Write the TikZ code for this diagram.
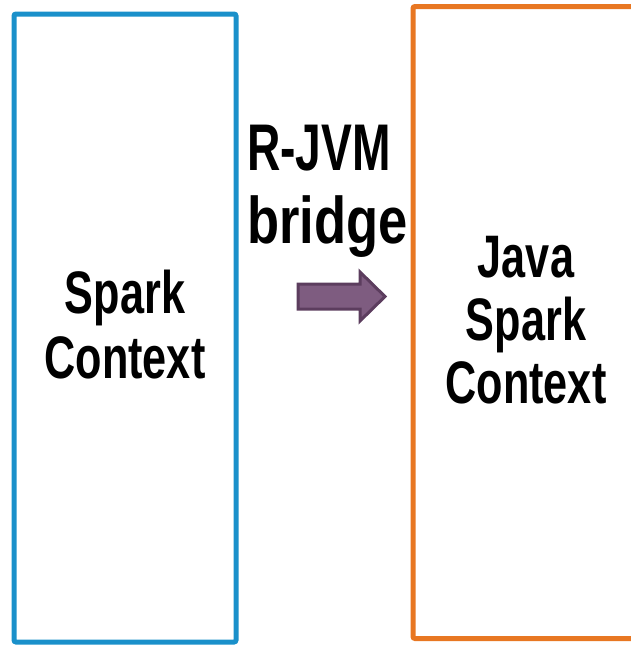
\documentclass[tikz,border=0pt]{standalone}
\usepackage{fontspec}
\newfontfamily\oswfont[FakeStretch=0.72]{Liberation Sans}
\newfontfamily\rjvmfont[FakeStretch=0.70]{Liberation Sans}
\newfontfamily\bridgefont[FakeStretch=0.795]{Liberation Sans}
\definecolor{boxblue}{HTML}{1A90CA}
\definecolor{boxorange}{HTML}{E87722}
\definecolor{arrowfill}{HTML}{7E5C80}
\definecolor{arrowline}{HTML}{5C3D5E}
\tikzset{
  ctxbox/.style={line width=5pt, rounded corners=2pt},
  bigtext/.style={font=\oswfont\bfseries\fontsize{60}{63}\selectfont, inner sep=0pt, anchor=base},
  bridgetext/.style={font=\bfseries\fontsize{66}{69}\selectfont, inner sep=0pt, anchor=base west},
}
\begin{document}
\begin{tikzpicture}[x=1pt,y=-1pt]
\useasboundingbox (0,0) rectangle (631,645);
\begin{scope}
\clip (0,0) rectangle (631,645);
\draw[ctxbox, draw=boxblue] (14,14) rectangle (236,642);
\draw[ctxbox, draw=boxorange] (413,6.5) rectangle (645,638.5);
\end{scope}
\node[bigtext] (l1) at (125,313) {Spark};
\node[bigtext] (l2) at (125,378) {Context};
\node[bigtext] (r1) at (526,277) {Java};
\node[bigtext] (r2) at (526,340) {Spark};
\node[bigtext] (r3) at (526,403) {Context};
\node[bridgetext] (b1) at (247,170) {\rjvmfont R-JVM};
\node[bridgetext] (b2) at (247,243) {\bridgefont bridge};
\draw[fill=arrowfill, draw=arrowline, line width=3pt, line join=miter]
  (298,284) -- (360,284) -- (360,272) -- (385,296.5) -- (360,321) -- (360,309) -- (298,309) -- cycle;
\end{tikzpicture}
\end{document}
